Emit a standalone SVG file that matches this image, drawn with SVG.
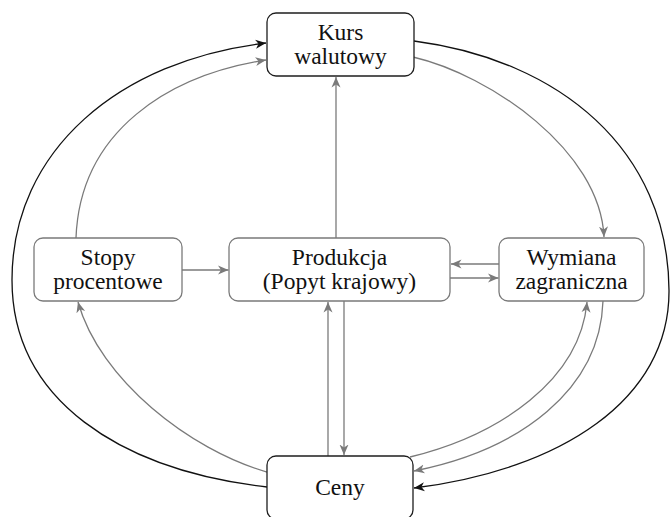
<svg xmlns="http://www.w3.org/2000/svg" width="670" height="517" viewBox="0 0 670 517">
<style>
.box-k{fill:#fff;stroke:#1e1e1e;stroke-width:1.3}
.box-g{fill:#fff;stroke:#7a7a7a;stroke-width:1.3}
.lbl{font-family:"Liberation Serif","Times New Roman",serif;font-size:23.5px;fill:#111;text-anchor:middle}
.cg{fill:none;stroke:#7a7a7a;stroke-width:1.3;marker-end:url(#ag)}
.cgn{fill:none;stroke:#7a7a7a;stroke-width:1.3}
.ck{fill:none;stroke:#111;stroke-width:1.3;marker-end:url(#ak)}
</style>
<defs>
<marker id="ag" markerUnits="userSpaceOnUse" viewBox="0 0 11 10" markerWidth="11" markerHeight="10" refX="10.5" refY="5" orient="auto">
<path d="M0,0.5 L10.5,5 L0,9.5 L3,5 Z" fill="#7a7a7a"/>
</marker>
<marker id="ak" markerUnits="userSpaceOnUse" viewBox="0 0 11 10" markerWidth="11" markerHeight="10" refX="10.5" refY="5" orient="auto">
<path d="M0,0.5 L10.5,5 L0,9.5 L3,5 Z" fill="#111"/>
</marker>
</defs>
<rect width="670" height="517" fill="#fff"/>
<g id="connectors">
<path class="cg" d="M336,238 L336,77"/>
<path class="cg" d="M182,270 L228.5,270"/>
<path class="cg" d="M499,264 L451,264"/>
<path class="cg" d="M450,278 L498.5,278"/>
<path class="cg" d="M328,456 L328,302"/>
<path class="cg" d="M344,301 L344,455"/>
<path class="cg" d="M413,57 C490,75 600,150 604,237"/>
<path class="ck" d="M414,41 C560,60 668,150 669,290 C670,400 560,470 414,488"/>
<path class="ck" d="M267,487 C120,470 12,400 12,280 C12,150 120,60 266,43"/>
<path class="cg" d="M76,238 C80,130 170,75 266,60"/>
<path class="cg" d="M267,472 C190,450 100,380 78,302"/>
<path class="cg" d="M410,457 C500,435 580,380 587,302"/>
<path class="cg" d="M603,301 C600,390 520,450 414,471"/>
</g>
<g id="kurs">
<rect class="box-k" x="267" y="13" width="147" height="63" rx="9"/>
<text class="lbl" x="340.5" y="40">Kurs</text>
<text class="lbl" x="340.5" y="64">walutowy</text>
</g>
<g id="stopy">
<rect class="box-g" x="34" y="238" width="148" height="63" rx="9"/>
<text class="lbl" x="108" y="264.5">Stopy</text>
<text class="lbl" x="108" y="288.5">procentowe</text>
</g>
<g id="produkcja">
<rect class="box-g" x="229" y="238" width="221" height="63" rx="9"/>
<text class="lbl" x="339.5" y="264.5">Produkcja</text>
<text class="lbl" x="339.5" y="288.5">(Popyt krajowy)</text>
</g>
<g id="wymiana">
<rect class="box-g" x="499" y="238" width="145" height="63" rx="9"/>
<text class="lbl" x="571.5" y="264.5">Wymiana</text>
<text class="lbl" x="571.5" y="288.5">zagraniczna</text>
</g>
<g id="ceny">
<rect class="box-k" x="267" y="456" width="146" height="63" rx="9"/>
<text class="lbl" x="340" y="495">Ceny</text>
</g>
</svg>
